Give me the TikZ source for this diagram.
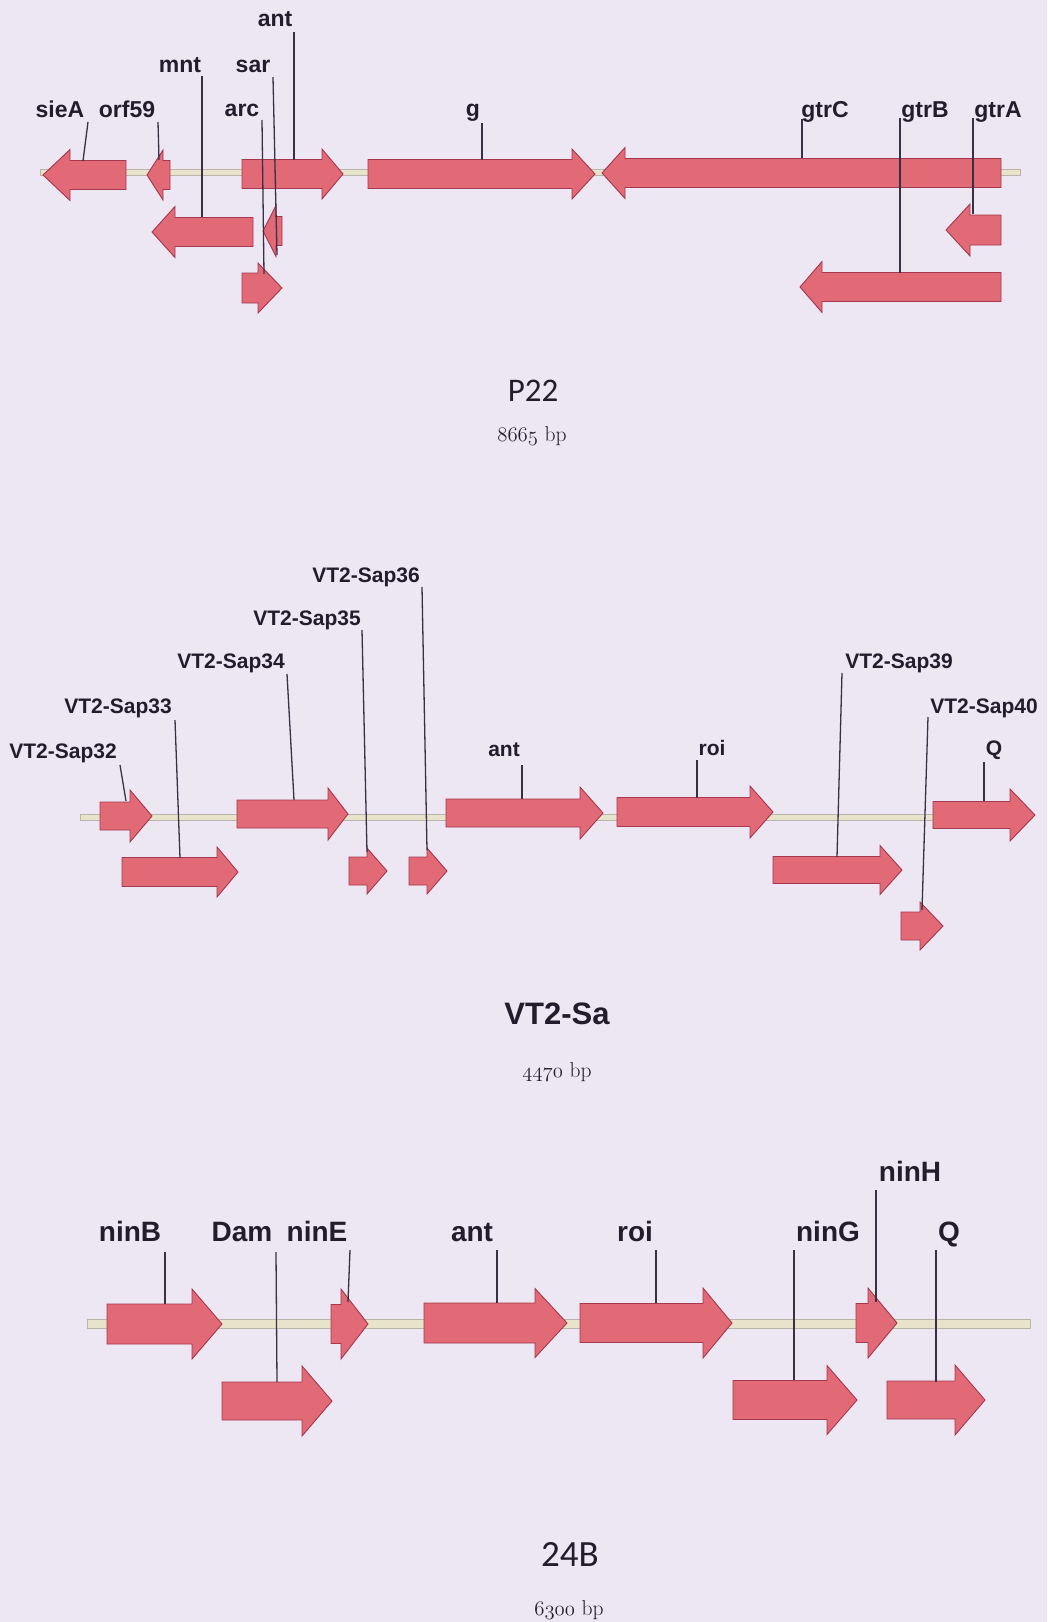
\documentclass[tikz,border=0pt]{standalone}
\usepackage{fontspec}
\newfontfamily\lblfont{Liberation Sans}
\newfontfamily\carl{Carlito}
\definecolor{bgcol}{RGB}{237,231,244}
\definecolor{genefill}{RGB}{226,106,118}
\definecolor{geneline}{RGB}{165,55,78}
\definecolor{leadcol}{RGB}{58,48,70}
\definecolor{txtcol}{RGB}{35,28,45}
\definecolor{bbfill}{RGB}{232,228,204}
\definecolor{bbline}{RGB}{185,180,172}
\tikzset{
  genestyle/.style={fill=genefill, draw=geneline, line width=0.9pt, line join=miter},
  leader/.style={draw=leadcol, line width=1.3pt},
  backbone/.style={fill=bbfill, draw=bbline, line width=0.6pt},
  labA/.style={anchor=base, inner sep=0pt, text=txtcol, font=\lblfont\bfseries\fontsize{23}{26}\selectfont},
  labB/.style={anchor=base, inner sep=0pt, text=txtcol, font=\lblfont\bfseries\fontsize{21}{24}\selectfont},
  labC/.style={anchor=base, inner sep=0pt, text=txtcol, font=\lblfont\bfseries\fontsize{28}{32}\selectfont},
  ttlC/.style={anchor=center, inner sep=0pt, text=txtcol},
  bpstyle/.style={anchor=center, inner sep=0pt, text=txtcol, font=\fontsize{21.5}{24}\selectfont}
}
% far end x, head base x, tip x, centre y, body half height, head half height
\newcommand\gene[6]{\filldraw[genestyle] (#1,{#4-#5}) -- (#2,{#4-#5}) -- (#2,{#4-#6}) -- (#3,#4) -- (#2,{#4+#6}) -- (#2,{#4+#5}) -- (#1,{#4+#5}) -- cycle;}
\newcommand\osnum[1]{{\usefont{OML}{cmm}{m}{it}#1}}
\begin{document}
\begin{tikzpicture}[x=1pt,y=-1pt]
\fill[bgcol] (0,0) rectangle (1047,1622);
\useasboundingbox (0,0) rectangle (1047,1622);

% ================= P22 =================
\draw[backbone] (40,169.5) rectangle (1020,175);
\gene{126}{70}{43}{175}{14.5}{25.5}
\gene{170}{163}{147}{175}{14.5}{25}
\gene{242}{322}{343}{174}{14.5}{25}
\gene{368}{572}{595}{174}{14.5}{25}
\gene{1001}{625}{602}{173}{14.5}{25.5}
\gene{253}{175}{152}{232}{14.5}{25.5}
\gene{282}{276}{263}{231}{14.5}{25.5}
\gene{1001}{970}{946}{230}{15}{26}
\gene{242}{258}{282}{288}{15}{25}
\gene{1001}{822}{800}{287}{14.5}{25.5}

\node[labA] (l-sieA) at (60,117) {sieA};
\node[labA] (l-orf59) at (127,117) {orf59};
\node[labA] (l-arc) at (242,116) {arc};
\node[labA] (l-mnt) at (180,72) {mnt};
\node[labA] (l-sar) at (253,72) {sar};
\node[labA] (l-ant1) at (275,27) {ant};
\node[labA] (l-g) at (473,116) {g};
\node[labA] (l-gtrC) at (825,117) {gtrC};
\node[labA] (l-gtrB) at (925,117) {gtrB};
\node[labA] (l-gtrA) at (998,117) {gtrA};

\coordinate (sieA-t) at (88,122);   \coordinate (sieA-b) at (83,161);
\coordinate (orf59-t) at (158,122); \coordinate (orf59-b) at (159,160);
\coordinate (ant1-t) at (294,32);   \coordinate (ant1-b) at (294,160);
\coordinate (mnt-t) at (202,76);    \coordinate (mnt-b) at (202,217);
\coordinate (sar-t) at (273,77);    \coordinate (sar-b) at (277,255);
\coordinate (arc-t) at (262,120);   \coordinate (arc-b) at (264,274);
\coordinate (g-t) at (482,123);     \coordinate (g-b) at (482,160);
\coordinate (gtrC-t) at (802,119);  \coordinate (gtrC-b) at (802,158);
\coordinate (gtrB-t) at (900,118);  \coordinate (gtrB-b) at (900,273);
\coordinate (gtrA-t) at (973,118);  \coordinate (gtrA-b) at (973,214);
\foreach \n in {sieA,orf59,ant1,mnt,sar,arc,g,gtrC,gtrB,gtrA}
  \draw[leader] (\n-t) -- (\n-b);

\node[ttlC, font=\carl\fontsize{33}{36}\selectfont] (t-p22) at (533,391) {P22};
\node[bpstyle] (bp-p22) at (532,436) {\osnum{8665} bp};

% ================= VT2-Sa =================
\draw[backbone] (80,814) rectangle (1000,820);
\gene{100}{130}{152}{816}{14}{26}
\gene{237}{328}{348}{814}{14}{26}
\gene{446}{580}{603}{813}{14}{26}
\gene{617}{750}{773}{812}{14.5}{26}
\gene{933}{1010}{1035}{815}{13.5}{26}
\gene{122}{217}{238}{872}{14.5}{25}
\gene{349}{367}{387}{871}{14}{23}
\gene{409}{427}{447}{871}{14}{23}
\gene{773}{880}{902}{870}{13.5}{24.5}
\gene{901}{920}{943}{926}{14}{24}

\node[labB] (l-s32) at (63,758) {VT2-Sap32};
\node[labB] (l-s33) at (118,713) {VT2-Sap33};
\node[labB] (l-s34) at (231,668) {VT2-Sap34};
\node[labB] (l-s35) at (307,625) {VT2-Sap35};
\node[labB] (l-s36) at (366,582) {VT2-Sap36};
\node[labB] (l-ant2) at (504,756) {ant};
\node[labB] (l-roi2) at (712,755) {roi};
\node[labB] (l-s39) at (899,668) {VT2-Sap39};
\node[labB] (l-s40) at (984,713) {VT2-Sap40};
\node[labB] (l-q2) at (994,755) {Q};

\coordinate (s32-t) at (120,765);  \coordinate (s32-b) at (126,801);
\coordinate (s33-t) at (175,720);  \coordinate (s33-b) at (180,858);
\coordinate (s34-t) at (287,674);  \coordinate (s34-b) at (294,800);
\coordinate (s35-t) at (362,630);  \coordinate (s35-b) at (367,852);
\coordinate (s36-t) at (422,587);  \coordinate (s36-b) at (427,850);
\coordinate (ant2-t) at (522,765); \coordinate (ant2-b) at (522,799);
\coordinate (roi2-t) at (697,760); \coordinate (roi2-b) at (697,798);
\coordinate (s39-t) at (842,673);  \coordinate (s39-b) at (837,857);
\coordinate (s40-t) at (928,717);  \coordinate (s40-b) at (922,910);
\coordinate (q2-t) at (984,762);   \coordinate (q2-b) at (984,801);
\foreach \n in {s32,s33,s34,s35,s36,ant2,roi2,s39,s40,q2}
  \draw[leader] (\n-t) -- (\n-b);

\node[ttlC, font=\lblfont\bfseries\fontsize{31}{34}\selectfont] (t-vt2) at (557,1014) {VT2-Sa};
\node[bpstyle] (bp-vt2) at (557,1072) {\osnum{4470} bp};

% ================= 24B =================
\draw[backbone] (87,1319) rectangle (1030,1328);
\gene{107}{192}{222}{1324}{20}{35}
\gene{331}{341}{368}{1324}{19.5}{35}
\gene{424}{535}{567}{1323}{20}{34.5}
\gene{580}{703}{732}{1323}{19.5}{35}
\gene{856}{868}{897}{1323}{19.5}{35}
\gene{222}{302}{332}{1401}{19}{35}
\gene{733}{827}{857}{1400}{19.5}{34.5}
\gene{887}{955}{985}{1400}{19}{35}

\node[labC] (l-ninB) at (130,1241) {ninB};
\node[labC] (l-dam) at (242,1241) {Dam};
\node[labC] (l-ninE) at (317,1241) {ninE};
\node[labC] (l-ant3) at (472,1241) {ant};
\node[labC] (l-roi3) at (635,1241) {roi};
\node[labC] (l-ninG) at (828,1241) {ninG};
\node[labC] (l-q3) at (949,1241) {Q};
\node[labC] (l-ninH) at (910,1181) {ninH};

\coordinate (ninB-t) at (165,1252); \coordinate (ninB-b) at (165,1304);
\coordinate (dam-t) at (276,1252);  \coordinate (dam-b) at (277,1382);
\coordinate (ninE-t) at (350,1250); \coordinate (ninE-b) at (348,1302);
\coordinate (ant3-t) at (497,1250); \coordinate (ant3-b) at (497,1303);
\coordinate (roi3-t) at (656,1250); \coordinate (roi3-b) at (656,1303);
\coordinate (ninG-t) at (794,1250); \coordinate (ninG-b) at (794,1380);
\coordinate (ninH-t) at (876,1190); \coordinate (ninH-b) at (876,1302);
\coordinate (q3-t) at (936,1250);   \coordinate (q3-b) at (936,1382);
\foreach \n in {ninB,dam,ninE,ant3,roi3,ninG,ninH,q3}
  \draw[leader] (\n-t) -- (\n-b);

\node[ttlC, font=\carl\fontsize{37}{40}\selectfont] (t-24b) at (570,1554) {24B};
\node[bpstyle] (bp-24b) at (569,1610) {\osnum{6300} bp};
\end{tikzpicture}
\end{document}
